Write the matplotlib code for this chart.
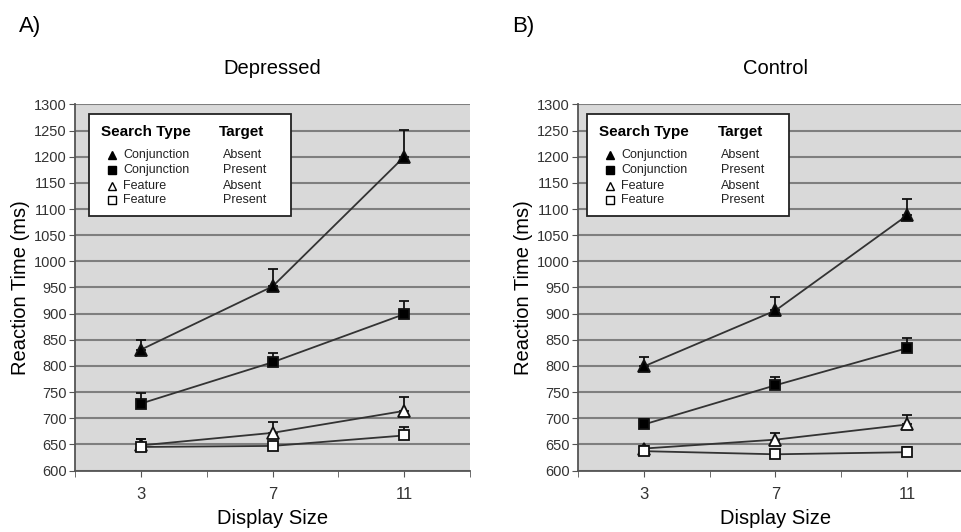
import numpy as np
import matplotlib.pyplot as plt
from matplotlib.patches import Rectangle

plt.rcParams['font.family'] = ['Liberation Sans', 'DejaVu Sans']

display_sizes = ['3', '7', '11']

# Depressed group (mean RT, upper error)
dep_conj_absent = [831, 952, 1200]
dep_conj_absent_err = [18, 34, 52]
dep_conj_present = [728, 807, 899]
dep_conj_present_err = [21, 18, 26]
dep_feat_absent = [648, 672, 714]
dep_feat_absent_err = [13, 21, 26]
dep_feat_present = [645, 647, 667]
dep_feat_present_err = [16, 4, 16]

# Control group
con_conj_absent = [799, 906, 1088]
con_conj_absent_err = [18, 25, 31]
con_conj_present = [688, 763, 834]
con_conj_present_err = [11, 16, 19]
con_feat_absent = [642, 659, 688]
con_feat_absent_err = [5, 13, 18]
con_feat_present = [637, 631, 635]
con_feat_present_err = [9, 5, 10]

legend_rows = [('^', 'k', 'Conjunction', 'Absent'),
               ('s', 'k', 'Conjunction', 'Present'),
               ('^', 'w', 'Feature', 'Absent'),
               ('s', 'w', 'Feature', 'Present')]

LINE = '#333333'


def draw_series(ax, x, y, err, marker, face):
    yerr = [np.zeros(len(err)), np.array(err)]
    ax.errorbar(x, y, yerr=yerr, fmt='none', ecolor='#111111', elinewidth=1.3,
                capsize=3.5, capthick=1.3, zorder=3)
    ax.plot(x, y, color=LINE, lw=1.3, marker=marker, ms=8 if marker == '^' else 7.5,
            mfc=face, mec='#111111', mew=1.3, zorder=4)


def draw_panel(ax, title, series, box_x):
    x = np.arange(len(display_sizes))
    ax.set_facecolor('#d9d9d9')
    for (y, err), (marker, face, _, _) in zip(series, legend_rows):
        draw_series(ax, x, y, err, marker, face)
    ax.set_xlim(-0.5, 2.5)
    ax.set_ylim(600, 1300)
    ax.set_yticks(np.arange(600, 1301, 50))
    ax.set_xticks(x)
    ax.set_xticklabels(display_sizes, fontsize=12, color='#333333')
    ax.set_xticks([-0.5, 0.5, 1.5, 2.5], minor=True)
    ax.tick_params(axis='x', which='both', length=4, color='#555555', pad=8)
    ax.tick_params(axis='y', length=4, labelsize=10.5, labelcolor='#333333',
                   color='#555555', pad=2)
    ax.yaxis.grid(True, color='#7f7f7f', lw=1.5)
    ax.set_axisbelow(True)
    for s in ['top', 'right']:
        ax.spines[s].set_visible(False)
    ax.spines['left'].set_color('#555555')
    ax.spines['bottom'].set_color('#555555')
    ax.spines['left'].set_linewidth(1.3)
    ax.spines['bottom'].set_linewidth(1.3)
    ax.set_xlabel('Display Size', fontsize=14.5, labelpad=5)
    ax.set_ylabel('Reaction Time (ms)', fontsize=14.5, labelpad=3)
    ax.set_title(title, fontsize=14.5, pad=22)

    # custom legend box
    box = Rectangle((box_x, 0.695), 0.512, 0.279, transform=ax.transAxes,
                    facecolor='white', edgecolor='#222222', lw=1.3, zorder=5)
    ax.add_patch(box)
    ax.text(box_x + 0.031, 0.925, 'Search Type', transform=ax.transAxes,
            fontsize=11, fontweight='bold', va='center', zorder=6)
    ax.text(box_x + 0.330, 0.925, 'Target', transform=ax.transAxes,
            fontsize=11, fontweight='bold', va='center', zorder=6)
    for (marker, face, stype, target), yy in zip(legend_rows, [0.862, 0.820, 0.777, 0.739]):
        ax.plot([box_x + 0.059], [yy], marker=marker, ms=6, mfc=face, mec='k',
                mew=1, transform=ax.transAxes, zorder=6, clip_on=False)
        ax.text(box_x + 0.087, yy, stype, transform=ax.transAxes, fontsize=9,
                color='#222222', va='center', zorder=6)
        ax.text(box_x + 0.340, yy, target, transform=ax.transAxes, fontsize=9,
                color='#222222', va='center', zorder=6)


fig = plt.figure(figsize=(9.62, 5.32), dpi=100)
ax1 = fig.add_axes([0.078, 0.1156, 0.4106, 0.688])
ax2 = fig.add_axes([0.6008, 0.1156, 0.4106, 0.688])

draw_panel(ax1, 'Depressed',
           [(dep_conj_absent, dep_conj_absent_err), (dep_conj_present, dep_conj_present_err),
            (dep_feat_absent, dep_feat_absent_err), (dep_feat_present, dep_feat_present_err)],
           0.035)
draw_panel(ax2, 'Control',
           [(con_conj_absent, con_conj_absent_err), (con_conj_present, con_conj_present_err),
            (con_feat_absent, con_feat_absent_err), (con_feat_present, con_feat_present_err)],
           0.023)

fig.text(0.02, 0.94, 'A)', fontsize=16)
fig.text(0.532, 0.94, 'B)', fontsize=16)

fig.savefig('out.png', dpi=100)
